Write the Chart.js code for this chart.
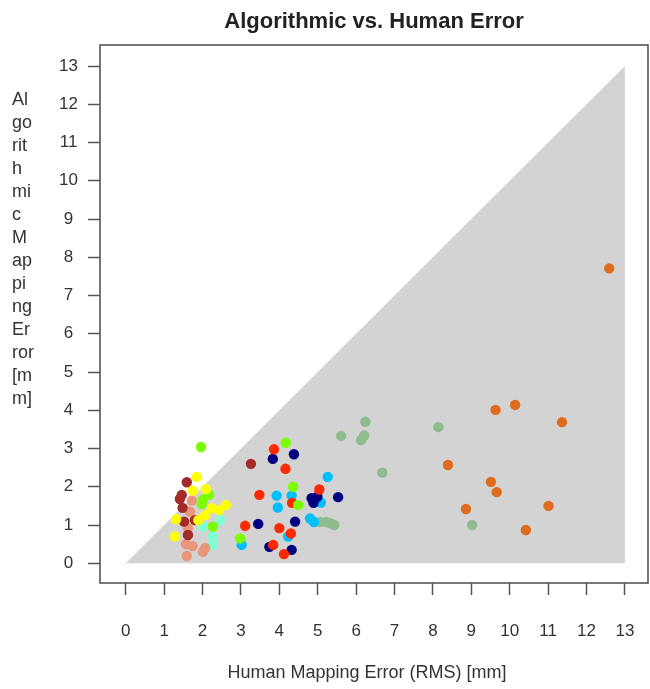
<!DOCTYPE html>
<html>
<head>
<meta charset="utf-8">
<script src="https://cdn.jsdelivr.net/npm/chart.js@4.4.1/dist/chart.umd.min.js"></script>
<style>
html,body{margin:0;padding:0;background:#ffffff;}
#wrap{width:650px;height:689px;position:relative;}
</style>
</head>
<body>
<div id="wrap"><canvas id="c" width="650" height="689"></canvas></div>
<script>
// ---- text ----
const titleText = "Algorithmic vs. Human Error";
const xTitle = "Human Mapping Error (RMS) [mm]";
const yTitleLines = ["Al","go","rit","h","mi","c","M","ap","pi","ng","Er","ror","[m","m]"];

// ---- tick labels ----
const xTicks = [0,1,2,3,4,5,6,7,8,9,10,11,12,13];
const yTicks = [0,1,2,3,4,5,6,7,8,9,10,11,12,13];

// ---- shaded region (y <= x) ----
const regionX = [0, 13];
const regionY = [0, 13];

// ---- series ----
const yellowX = [1.85,1.75,2.09,2.24,2.43,2.61,2.07,1.31,1.89,1.28];
const yellowY = [2.26,1.90,1.94,1.44,1.39,1.52,1.26,1.15,1.13,0.70];

const greenX = [1.96,2.17,2.01,1.98,2.27,2.98,4.17,4.36,4.49];
const greenY = [3.04,1.79,1.66,1.55,0.96,0.65,3.15,2.00,1.52];

const brownX = [3.26,1.59,1.46,1.41,1.48,1.52,1.80,1.62];
const brownY = [2.60,2.12,1.79,1.68,1.45,1.09,1.13,0.74];

const salmonX = [1.72,1.67,1.62,1.57,1.74,2.07,2.01,1.59];
const salmonY = [1.64,1.35,0.92,0.50,0.45,0.40,0.30,0.19];

const aquaX = [2.46,2.01,2.27,2.27];
const aquaY = [1.13,0.96,0.70,0.48];

const redX = [3.86,4.16,5.04,3.48,4.33,3.11,4.00,4.30,3.84,4.12];
const redY = [2.98,2.47,1.93,1.79,1.58,0.98,0.92,0.78,0.48,0.24];

const navyX = [4.38,3.83,4.84,4.99,4.89,5.53,4.41,3.45,3.74,4.32];
const navyY = [2.85,2.73,1.70,1.74,1.58,1.73,1.09,1.03,0.43,0.35];

const skyX = [5.26,3.93,4.32,5.08,3.96,4.80,4.90,4.23,3.02];
const skyY = [2.26,1.77,1.77,1.59,1.46,1.17,1.08,0.70,0.48];

const seaX = [5.06,5.22,5.32,5.43,6.24,5.61,6.21,6.13,8.14,6.68,9.02];
const seaY = [1.08,1.08,1.05,1.00,3.70,3.33,3.34,3.22,3.56,2.37,1.00];

const orangeX = [9.63,10.14,8.39,9.51,9.66,8.86,11.01,10.42,11.36,12.59];
const orangeY = [4.01,4.14,2.57,2.13,1.86,1.42,1.50,0.87,3.69,7.71];

function pts(xs, ys){ return xs.map((x,i)=>({x:x, y:ys[i]})); }
function series(xs, ys, color){
  return {type:'scatter', data:pts(xs,ys), backgroundColor:color, borderWidth:0,
          pointRadius:5.2, pointHoverRadius:5.2, order:1};
}

const FONT = "'Liberation Sans', Arial, Helvetica, sans-serif";

const decor = {
  id:'decor',
  afterDraw(chart){
    const ctx = chart.ctx, a = chart.chartArea;
    ctx.save();
    // frame
    ctx.strokeStyle = '#555555';
    ctx.lineWidth = 1.6;
    ctx.strokeRect(a.left, a.top, a.right - a.left, a.bottom - a.top);
    // title
    ctx.fillStyle = '#222222';
    ctx.font = "bold 22px " + FONT;
    ctx.textAlign = 'center';
    ctx.textBaseline = 'alphabetic';
    ctx.fillText(titleText, (a.left + a.right)/2, 28);
    // x title
    ctx.fillStyle = '#333333';
    ctx.font = "18px " + FONT;
    ctx.fillText(xTitle, (a.left + a.right)/2 - 7, 678);
    // y title (stacked lines)
    ctx.textAlign = 'left';
    yTitleLines.forEach((t,i)=>{ ctx.fillText(t, 12, 105 + i*23); });
    ctx.restore();
  }
};

new Chart(document.getElementById('c'), {
  type:'scatter',
  data:{
    datasets:[
      series(yellowX, yellowY, '#FFFF00'),
      series(greenX, greenY, '#7CFC00'),
      series(brownX, brownY, '#A52A2A'),
      series(salmonX, salmonY, '#E9967A'),
      series(aquaX, aquaY, '#7FFFD4'),
      series(redX, redY, '#FF2A00'),
      series(navyX, navyY, '#000080'),
      series(skyX, skyY, '#00BFFF'),
      series(seaX, seaY, '#8FBC8F'),
      series(orangeX, orangeY, '#DF6C1E'),
      {type:'line', data:pts(regionX, regionY), fill:'origin', backgroundColor:'#D3D3D3',
       borderWidth:0, borderColor:'rgba(0,0,0,0)', pointRadius:0, order:10, tension:0}
    ]
  },
  options:{
    responsive:false,
    devicePixelRatio:1,
    animation:false,
    layout:{autoPadding:false, padding:{top:45, right:2, left:0, bottom:0}},
    plugins:{legend:{display:false}, title:{display:false}, tooltip:{enabled:false}},
    scales:{
      x:{
        type:'linear', min:-0.67, max:13.6,
        afterBuildTicks:(s)=>{ s.ticks = xTicks.map(v=>({value:v})); },
        afterFit:(s)=>{ s.height = 106; s.paddingLeft = 0; s.paddingRight = 0; },
        ticks:{color:'#333333', font:{family:FONT, size:17}, padding:26, autoSkip:false, maxRotation:0,
               callback:(v)=>String(v)},
        grid:{display:true, drawOnChartArea:false, drawTicks:true, tickLength:12, color:'#555555', tickColor:'#555555', tickWidth:1.5},
        border:{display:false}
      },
      y:{
        type:'linear', min:-0.515, max:13.55,
        afterBuildTicks:(s)=>{ s.ticks = yTicks.map(v=>({value:v})); },
        afterFit:(s)=>{ s.width = 100; s.paddingTop = 0; s.paddingBottom = 0; },
        ticks:{color:'#333333', font:{family:FONT, size:17}, padding:10, crossAlign:'center', autoSkip:false,
               callback:(v)=>String(v)},
        grid:{display:true, drawOnChartArea:false, drawTicks:true, tickLength:12, color:'#555555', tickColor:'#555555', tickWidth:1.5},
        border:{display:false}
      }
    }
  },
  plugins:[decor]
});
</script>
</body>
</html>
